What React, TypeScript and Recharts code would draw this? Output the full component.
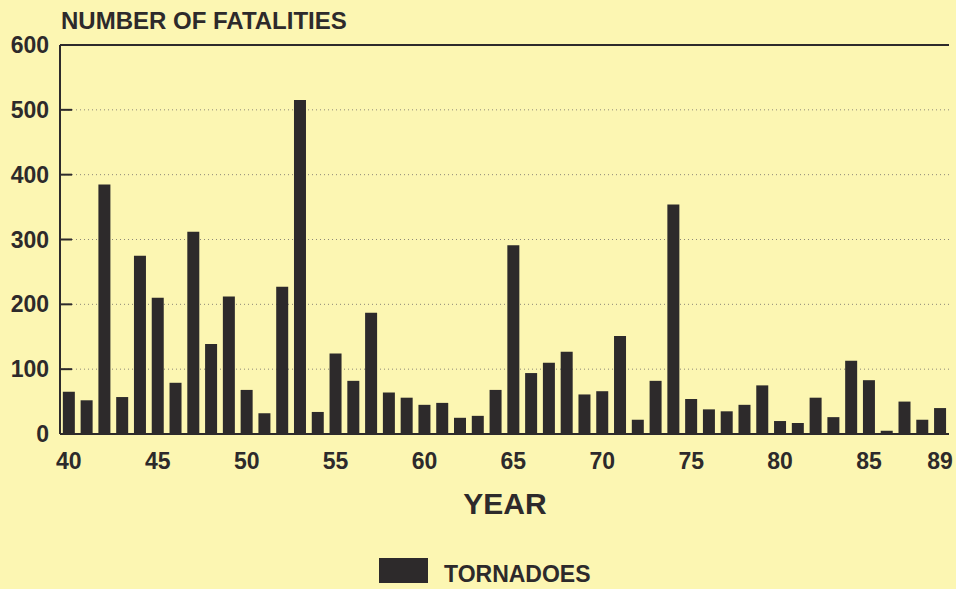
import { BarChart, Bar, XAxis, YAxis, CartesianGrid, ReferenceLine } from 'recharts';

const years = Array.from({ length: 50 }, (_, i) => String(40 + i));

const fatalities = [
  65, 52, 385, 57, 275, 210, 79, 312, 139, 212,
  68, 32, 227, 515, 34, 124, 82, 187, 64, 56,
  45, 48, 25, 28, 68, 291, 94, 110, 127, 61,
  66, 151, 22, 82, 354, 54, 38, 35, 45, 75,
  20, 17, 56, 26, 113, 83, 5, 50, 22, 40,
];

const yearTicks = ['40', '45', '50', '55', '60', '65', '70', '75', '80', '85', '89'];
const valueTicks = [0, 100, 200, 300, 400, 500, 600];

const chartData = years.map((year, i) => ({ year, tornadoes: fatalities[i] }));

const font = '"Liberation Sans", Arial, sans-serif';
const bg = '#fcf6b2';
const ink = '#2d2a2b';

export default function App() {
  return (
    <div style={{ position: 'absolute', left: 0, top: 0, width: 956, height: 589, background: bg, fontFamily: font, overflow: 'hidden' }}>
      <div style={{ position: 'absolute', left: 61, top: 7, fontSize: 24, fontWeight: 700, color: ink, whiteSpace: 'nowrap' }}>
        NUMBER OF FATALITIES
      </div>
      <BarChart
        width={956}
        height={589}
        data={chartData}
        margin={{ top: 45, right: 7, bottom: 115, left: 0 }}
        barCategoryGap="16%"
      >
        <CartesianGrid horizontal vertical={false} stroke="#8c8778" strokeDasharray="1 3" />
        <XAxis
          dataKey="year"
          ticks={yearTicks}
          interval={0}
          tickLine={false}
          tickSize={0}
          tickMargin={19}
          axisLine={{ stroke: ink, strokeWidth: 2 }}
          tick={{ fill: ink, fontSize: 23, fontWeight: 700, fontFamily: font }}
          height={40}
        />
        <YAxis
          domain={[0, 600]}
          ticks={valueTicks}
          interval={0}
          width={60}
          tickSize={-12}
          tickMargin={23}
          axisLine={{ stroke: ink, strokeWidth: 2 }}
          tickLine={{ stroke: ink, strokeWidth: 2 }}
          tick={{ fill: ink, fontSize: 23, fontWeight: 700, fontFamily: font }}
        />
        <YAxis
          yAxisId="right"
          orientation="right"
          domain={[0, 600]}
          width={0}
          tick={false}
          tickLine={false}
          axisLine={{ stroke: '#555', strokeWidth: 1 }}
        />
        <ReferenceLine y={600} stroke={ink} strokeWidth={2} />
        <Bar dataKey="tornadoes" fill={ink} name="TORNADOES" isAnimationActive={false} />
      </BarChart>
      <div style={{ position: 'absolute', left: 380, top: 487, width: 250, textAlign: 'center', fontSize: 30, fontWeight: 700, color: ink }}>
        YEAR
      </div>
      <div style={{ position: 'absolute', left: 379, top: 558, width: 49, height: 25, background: ink }} />
      <div style={{ position: 'absolute', left: 444, top: 561, fontSize: 23, fontWeight: 700, color: ink, whiteSpace: 'nowrap' }}>
        TORNADOES
      </div>
    </div>
  );
}
